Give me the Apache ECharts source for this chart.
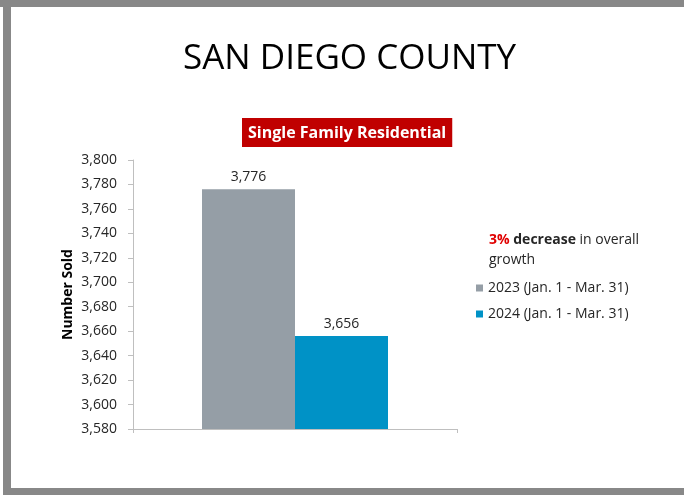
<!DOCTYPE html>
<html>
<head>
<meta charset="utf-8">
<script src="https://cdn.jsdelivr.net/npm/echarts@6/dist/echarts.min.js"></script>
<style>
  html, body { margin: 0; padding: 0; background: #fff; }
  #chart { width: 684px; height: 495px; }
</style>
</head>
<body>
<div id="chart"></div>
<script>
// data
const categories = ['Single Family Residential'];
const seriesNames = ['2023 (Jan. 1 - Mar. 31)', '2024 (Jan. 1 - Mar. 31)'];
const values2023 = [3776];
const values2024 = [3656];
const yMin = 3580;
const yMax = 3800;
const yStep = 20;

const FONT = 'Open Sans';
const fmt = v => Number(v).toLocaleString('en-US');

const chart = echarts.init(document.getElementById('chart'));

chart.setOption({
  backgroundColor: '#fff',
  animation: false,
  textStyle: { fontFamily: FONT },
  title: [
    {
      text: 'SAN DIEGO COUNTY',
      left: 178,
      top: 37,
      textStyle: { fontFamily: FONT, fontSize: 35, fontWeight: 'normal', color: '#000' }
    },
    {
      text: categories[0],
      left: 242,
      top: 118,
      padding: [7, 6, 6, 6],
      backgroundColor: '#c00000',
      textStyle: { fontFamily: FONT, fontSize: 16, fontWeight: 'bold', color: '#fff' }
    },
    {
      text: '{r|3%} {b|decrease} in overall\ngrowth',
      left: 484,
      top: 225,
      textStyle: {
        fontFamily: FONT, fontSize: 14, fontWeight: 'normal', color: '#262626', lineHeight: 20,
        rich: {
          r: { fontFamily: FONT, fontSize: 14, fontWeight: 'bold', color: '#e00000', lineHeight: 20 },
          b: { fontFamily: FONT, fontSize: 14, fontWeight: 'bold', color: '#262626', lineHeight: 20 }
        }
      }
    }
  ],
  legend: {
    orient: 'vertical',
    left: 471,
    top: 274,
    icon: 'rect',
    itemWidth: 7,
    itemHeight: 7,
    itemGap: 8,
    data: seriesNames,
    textStyle: { fontFamily: FONT, fontSize: 14, lineHeight: 18, color: '#262626' }
  },
  grid: { left: 133, right: 227, top: 160, bottom: 66, containLabel: false },
  xAxis: {
    type: 'category',
    data: categories,
    axisLine: { lineStyle: { color: '#bfbfbf' } },
    axisTick: { show: true, length: 4, lineStyle: { color: '#bfbfbf' } },
    axisLabel: { show: false }
  },
  yAxis: {
    type: 'value',
    min: yMin,
    max: yMax,
    interval: yStep,
    name: 'Number Sold',
    nameLocation: 'middle',
    nameGap: 58,
    nameTextStyle: { fontFamily: FONT, fontSize: 14, fontWeight: 'bold', color: '#000' },
    splitLine: { show: false },
    axisLine: { show: true, lineStyle: { color: '#bfbfbf' } },
    axisTick: { show: true, length: 5, lineStyle: { color: '#bfbfbf' } },
    axisLabel: { margin: 16, fontFamily: FONT, fontSize: 14, color: '#262626', formatter: fmt }
  },
  series: [
    {
      name: seriesNames[0],
      type: 'bar',
      data: values2023,
      barWidth: 93,
      barGap: 0,
      itemStyle: { color: '#959ea6' },
      label: { show: true, position: 'top', distance: 5, fontFamily: FONT, fontSize: 14, color: '#262626', formatter: p => fmt(p.value) }
    },
    {
      name: seriesNames[1],
      type: 'bar',
      data: values2024,
      barWidth: 93,
      barGap: 0,
      itemStyle: { color: '#0092c6' },
      label: { show: true, position: 'top', distance: 5, fontFamily: FONT, fontSize: 14, color: '#262626', formatter: p => fmt(p.value) }
    }
  ],
  graphic: [
    // grey frame of the slide
    { type: 'rect', left: 0, top: 0, shape: { width: 684, height: 7 }, style: { fill: '#888' }, silent: true },
    { type: 'rect', left: 3, top: 0, shape: { width: 8, height: 495 }, style: { fill: '#888' }, silent: true },
    { type: 'rect', left: 3, top: 488, shape: { width: 681, height: 7 }, style: { fill: '#888' }, silent: true }
  ]
});
</script>
</body>
</html>
